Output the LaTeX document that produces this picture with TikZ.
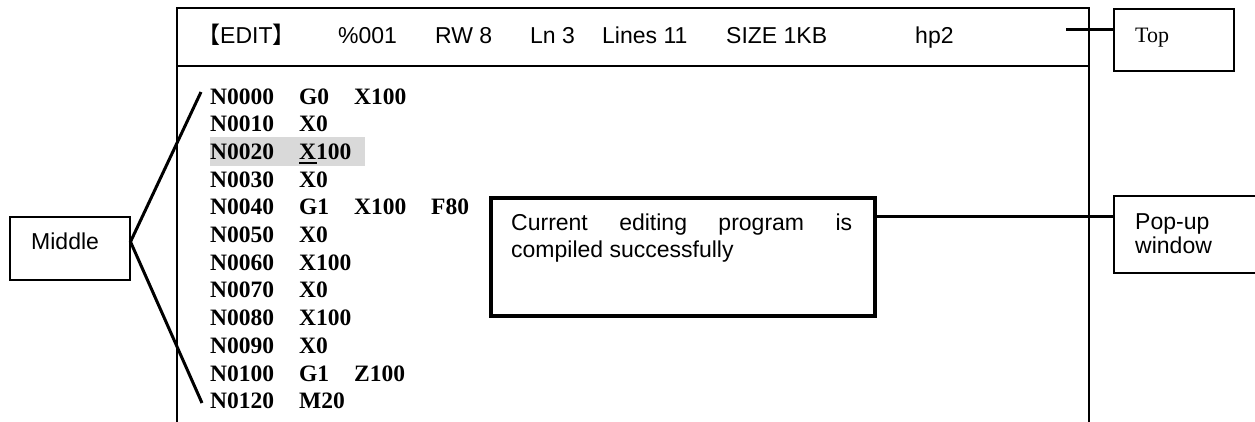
\documentclass[tikz,border=0pt]{standalone}
\usepackage{fontspec}
\setmainfont{Liberation Serif}
\newfontfamily\arial{Liberation Sans}
\newfontfamily\cjk{Noto Sans CJK SC}
\definecolor{hl}{RGB}{217,217,217}

\begin{document}
\begin{tikzpicture}[x=1pt,y=-1pt,
  frame/.style={line width=1.5pt},
  box/.style={draw, line width=1.5pt, inner sep=0pt, anchor=north west},
  popbox/.style={draw, line width=3.5pt, inner sep=0pt, anchor=north west},
  lead/.style={line width=3pt},
  sanslabel/.style={font=\arial\fontsize{23}{27}\selectfont, inner sep=0pt, anchor=base west},
  toplabel/.style={font=\fontsize{22}{26}\selectfont, inner sep=0pt, anchor=base west},
  code/.style={font=\bfseries\fontsize{23.5}{27}\selectfont, inner sep=0pt, anchor=base west},
]
\useasboundingbox (0,0) rectangle (1255,421);
\clip (0,0) rectangle (1255,421);

% screen frame, open at the bottom, with the status bar divider
\draw[frame] (177,430) -- (177,8) -- (1089,8) -- (1089,430);
\draw[frame] (177,66) -- (1089,66);

% status bar
\node[sanslabel] (edit) at (197,43) {{\cjk 【}EDIT{\cjk 】}};
\node[sanslabel] (prog) at (338,43) {\%001};
\node[sanslabel] (rw)   at (435,43) {RW 8};
\node[sanslabel] (ln)   at (530,43) {Ln 3};
\node[sanslabel] (lines) at (602,43) {Lines 11};
\node[sanslabel] (size) at (726,43) {SIZE 1KB};
\node[sanslabel] (user) at (915,43) {hp2};

% highlighted current line
\fill[hl] (210,137) rectangle (365,166);

% program listing
\foreach \r/\t in {0/N0000,1/N0010,2/N0020,3/N0030,4/N0040,5/N0050,6/N0060,7/N0070,8/N0080,9/N0090,10/N0100,11/N0120}
  \node[code] (n\r) at (210,{104+27.7*\r}) {\t};
\foreach \r/\t in {0/G0,1/X0,2/X100,3/X0,4/G1,5/X0,6/X100,7/X0,8/X100,9/X0,10/G1,11/M20}
  \node[code] (m\r) at (299,{104+27.7*\r}) {\t};
\foreach \r/\t in {0/X100,4/X100,10/Z100}
  \node[code] (k\r) at (354,{104+27.7*\r}) {\t};
\node[code] (f4) at (431,{104+27.7*4}) {F80};
% cursor under the X of the current line
\draw[line width=2pt] ([yshift=-3.5pt]m2.base west) -- ++(18,0);

% message window
\node[popbox, minimum width=384pt, minimum height=118pt] (popup) at (489,196) {};
\node[sanslabel] (pop1) at (511,230) {\makebox[341pt][s]{Current editing program is}};
\node[sanslabel] (pop2) at (511,257) {compiled successfully};

% callout boxes
\node[box, minimum width=120pt, minimum height=62pt] (topbox) at (1113,8) {};
\node[toplabel] (toptext) at (1135,42) {Top};

\node[box, minimum width=120pt, minimum height=63pt] (midbox) at (9,216) {};
\node[sanslabel] (midtext) at (31,249) {Middle};

\node[box, minimum width=150pt, minimum height=77pt] (popwin) at (1113,195) {};
\node[sanslabel] (popwin1) at (1135,229) {Pop-up};
\node[sanslabel] (popwin2) at (1135,253) {window};

% leader lines
\coordinate (topc) at (1066,29);
\draw[lead] (topc) -- (topc -| topbox.west);

\path ([yshift=-20pt]popup.north east) coordinate (pc);
\draw[lead] (pc) -- (pc -| popwin.west);

\coordinate (apex) at ([yshift=6.5pt]midbox.east);
\coordinate (leadtop) at (201,92);
\coordinate (leadbot) at (202,403);
\draw[lead] (leadtop) -- (apex) -- (leadbot);
\end{tikzpicture}
\end{document}
